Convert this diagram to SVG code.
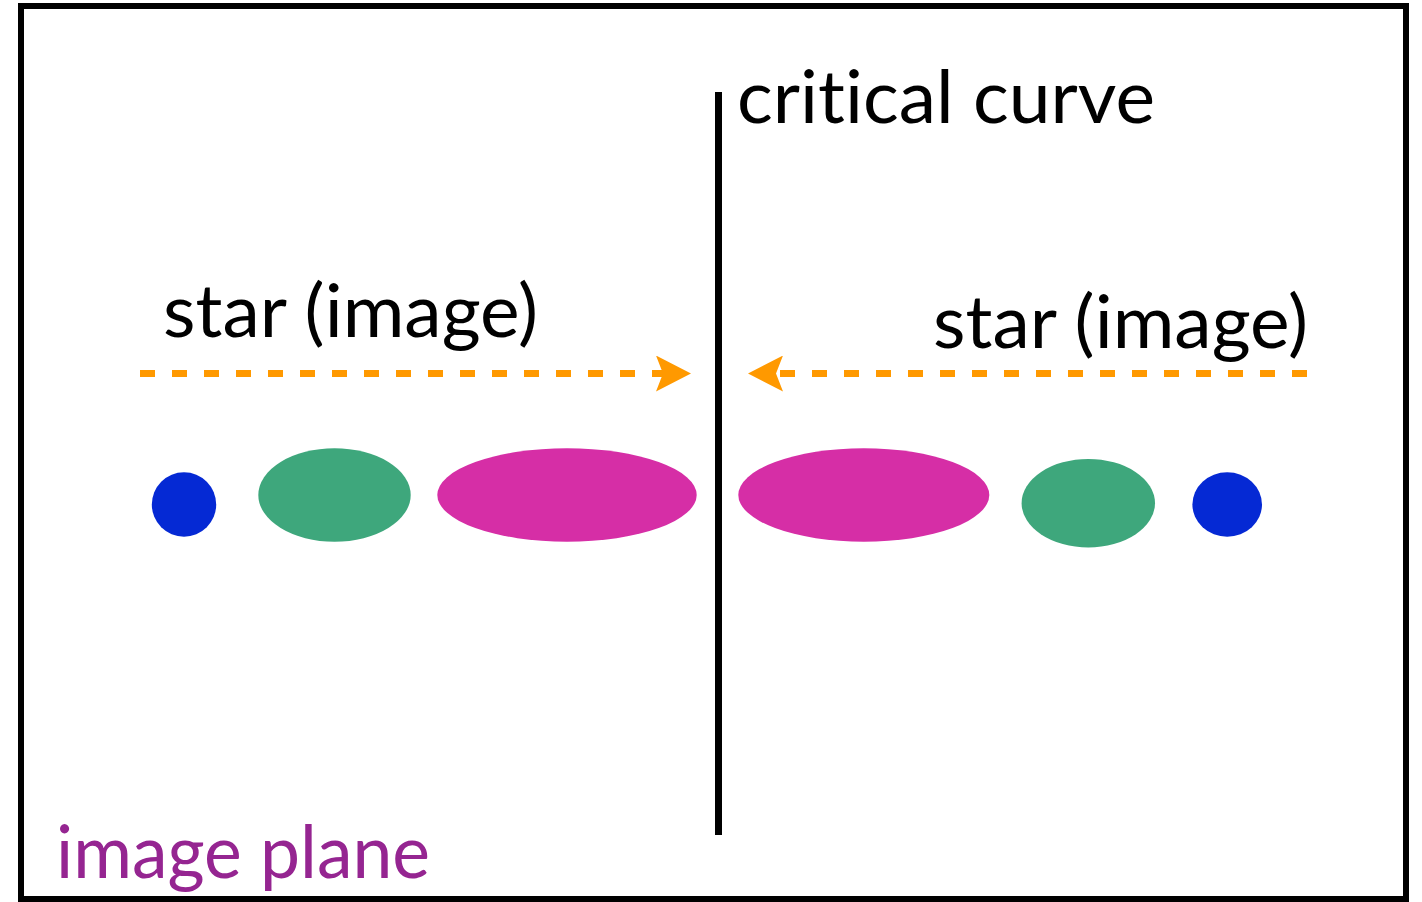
<svg xmlns="http://www.w3.org/2000/svg" width="1422" height="902" viewBox="0 0 1422 902">
  <style>
    .lbl { font-family: Lato, "Noto Sans", "Liberation Sans", sans-serif; font-size: 74px; fill: #000; font-variant-ligatures: none; font-feature-settings: "liga" 0, "clig" 0; }
    .plane { fill: #952591; }
    .dash { fill: none; stroke: #FF9900; stroke-width: 7; stroke-dasharray: 15 17; }
    .blue { fill: #0529D4; }
    .green { fill: #3EA77C; }
    .magenta { fill: #D62EA6; }
  </style>
  <defs>
    <marker id="head" markerUnits="userSpaceOnUse" markerWidth="35" markerHeight="36" viewBox="0 0 35 36" refX="7" refY="18" orient="auto">
      <path d="M0,0 L35,18 L0,36 L7,18 Z" fill="#FF9900"/>
    </marker>
  </defs>
  <rect id="frame" x="21" y="6" width="1385" height="893" fill="#fff" stroke="#000" stroke-width="6"/>

  <g id="critical-curve">
    <line x1="718.5" y1="92" x2="718.5" y2="835" stroke="#000" stroke-width="7"/>
    <text class="lbl" x="737" y="123" textLength="418" lengthAdjust="spacingAndGlyphs">critical curve</text>
  </g>

  <g id="label-left">
    <text class="lbl" x="163" y="337" textLength="375" lengthAdjust="spacingAndGlyphs">star (image)</text>
  </g>
  <g id="label-right">
    <text class="lbl" x="933" y="348" textLength="375" lengthAdjust="spacingAndGlyphs">star (image)</text>
  </g>

  <g id="connectors">
    <path class="dash" d="M140,373.5 L663,373.5" marker-end="url(#head)"/>
    <path class="dash" d="M1307,373.5 L776,373.5" marker-end="url(#head)"/>
  </g>

  <g id="img-blue-left"><ellipse class="blue" cx="184" cy="504.5" rx="32.2" ry="32.2"/></g>
  <g id="img-green-left"><ellipse class="green" cx="334.5" cy="495" rx="76.2" ry="46.7"/></g>
  <g id="img-magenta-left"><ellipse class="magenta" cx="567" cy="495" rx="129.7" ry="46.7"/></g>
  <g id="img-magenta-right"><ellipse class="magenta" cx="863.8" cy="495" rx="125.5" ry="46.7"/></g>
  <g id="img-green-right"><ellipse class="green" cx="1088.3" cy="503.2" rx="66.7" ry="44.2"/></g>
  <g id="img-blue-right"><ellipse class="blue" cx="1227.2" cy="504.5" rx="34.8" ry="32.2"/></g>

  <g id="plane-label">
    <text class="lbl plane" x="56" y="878" textLength="374" lengthAdjust="spacingAndGlyphs">image plane</text>
  </g>
</svg>
